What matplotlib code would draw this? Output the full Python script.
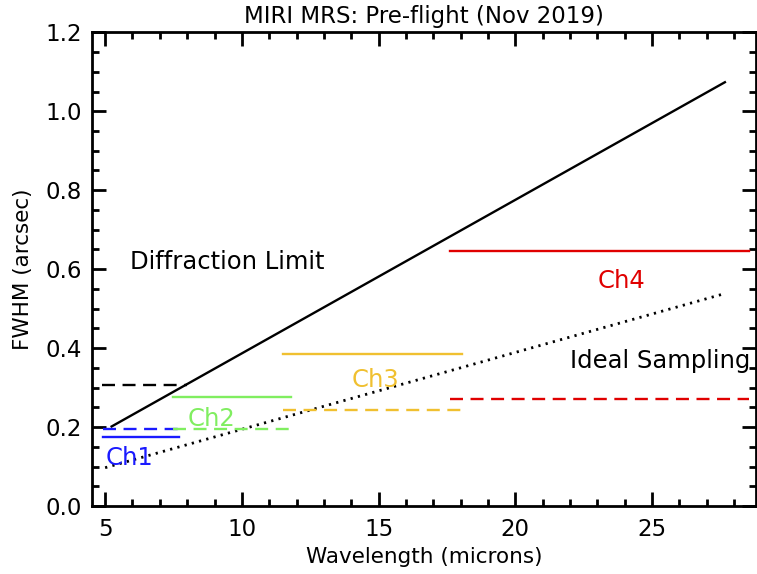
import matplotlib
matplotlib.use("Agg")
import matplotlib.pyplot as plt
from matplotlib.ticker import MultipleLocator, FormatStrFormatter

# ---- data ----
diff_x = [5.2, 27.7]
diff_y = [0.200, 1.075]
samp_x = [5.0, 27.6]
samp_y = [0.097, 0.537]
ref_x = [4.9, 8.0]
ref_y = [0.307, 0.307]

ch_names = ["Ch1", "Ch2", "Ch3", "Ch4"]
ch_lo = [4.92, 7.5, 11.5, 17.6]
ch_hi = [7.7, 11.8, 18.05, 28.55]
ch_meas = [0.176, 0.276, 0.386, 0.645]
ch_dash = [0.195, 0.195, 0.243, 0.271]
ch_colors = ["#1a1aff", "#80ee60", "#f0c030", "#e00000"]
ch_label_x = [5.0, 8.03, 14.02, 23.0]
ch_label_y = [0.122, 0.22, 0.32, 0.57]

title = "MIRI MRS: Pre-flight (Nov 2019)"
xlabel = "Wavelength (microns)"
ylabel = "FWHM (arcsec)"

plt.rcParams["font.family"] = ["DejaVu Sans"]
FS = 17.5

fig = plt.figure(figsize=(7.57, 5.74), dpi=100)
ax = fig.add_axes([92 / 757, 1 - 506 / 574, (756 - 92) / 757, (506 - 32.3) / 574])

lw = 1.7
ax.plot(diff_x, diff_y, color="black", lw=lw, solid_capstyle="butt")
ax.plot(samp_x, samp_y, color="black", lw=2.0, linestyle=(0, (0.8, 1.9)))
ax.plot(ref_x, ref_y, color="black", lw=lw, linestyle=(0, (5.5, 3.2)))

for lo, hi, m, d, c, name, tx, ty in zip(ch_lo, ch_hi, ch_meas, ch_dash, ch_colors,
                                         ch_names, ch_label_x, ch_label_y):
    ax.plot([lo, hi], [m, m], color=c, lw=lw)
    ax.plot([lo, hi], [d, d], color=c, lw=lw, linestyle=(0, (5.5, 3.2)))
    ax.text(tx, ty, name, color=c, fontsize=FS, ha="left", va="center")

ax.text(5.91, 0.618, "Diffraction Limit", fontsize=FS, ha="left", va="center")
ax.text(22.0, 0.367, "Ideal Sampling", fontsize=FS, ha="left", va="center")

ax.set_xlim(4.52, 28.8)
ax.set_ylim(0.0, 1.2)
ax.xaxis.set_major_locator(MultipleLocator(5))
ax.xaxis.set_minor_locator(MultipleLocator(1))
ax.yaxis.set_major_locator(MultipleLocator(0.2))
ax.yaxis.set_minor_locator(MultipleLocator(0.05))
ax.yaxis.set_major_formatter(FormatStrFormatter("%.1f"))

ax.tick_params(which="both", direction="in", top=True, right=True, width=2,
               labelsize=16.5)
ax.tick_params(axis="x", which="major", length=10, pad=9)
ax.tick_params(axis="y", which="major", length=10, pad=7)
ax.tick_params(which="minor", length=5)
for s in ax.spines.values():
    s.set_linewidth(2)

ax.set_title(title, fontsize=16.5, pad=7)
ax.set_xlabel(xlabel, fontsize=15.5, labelpad=4)
ax.set_ylabel(ylabel, fontsize=15.5, labelpad=9)

fig.savefig("out.png", dpi=100)
